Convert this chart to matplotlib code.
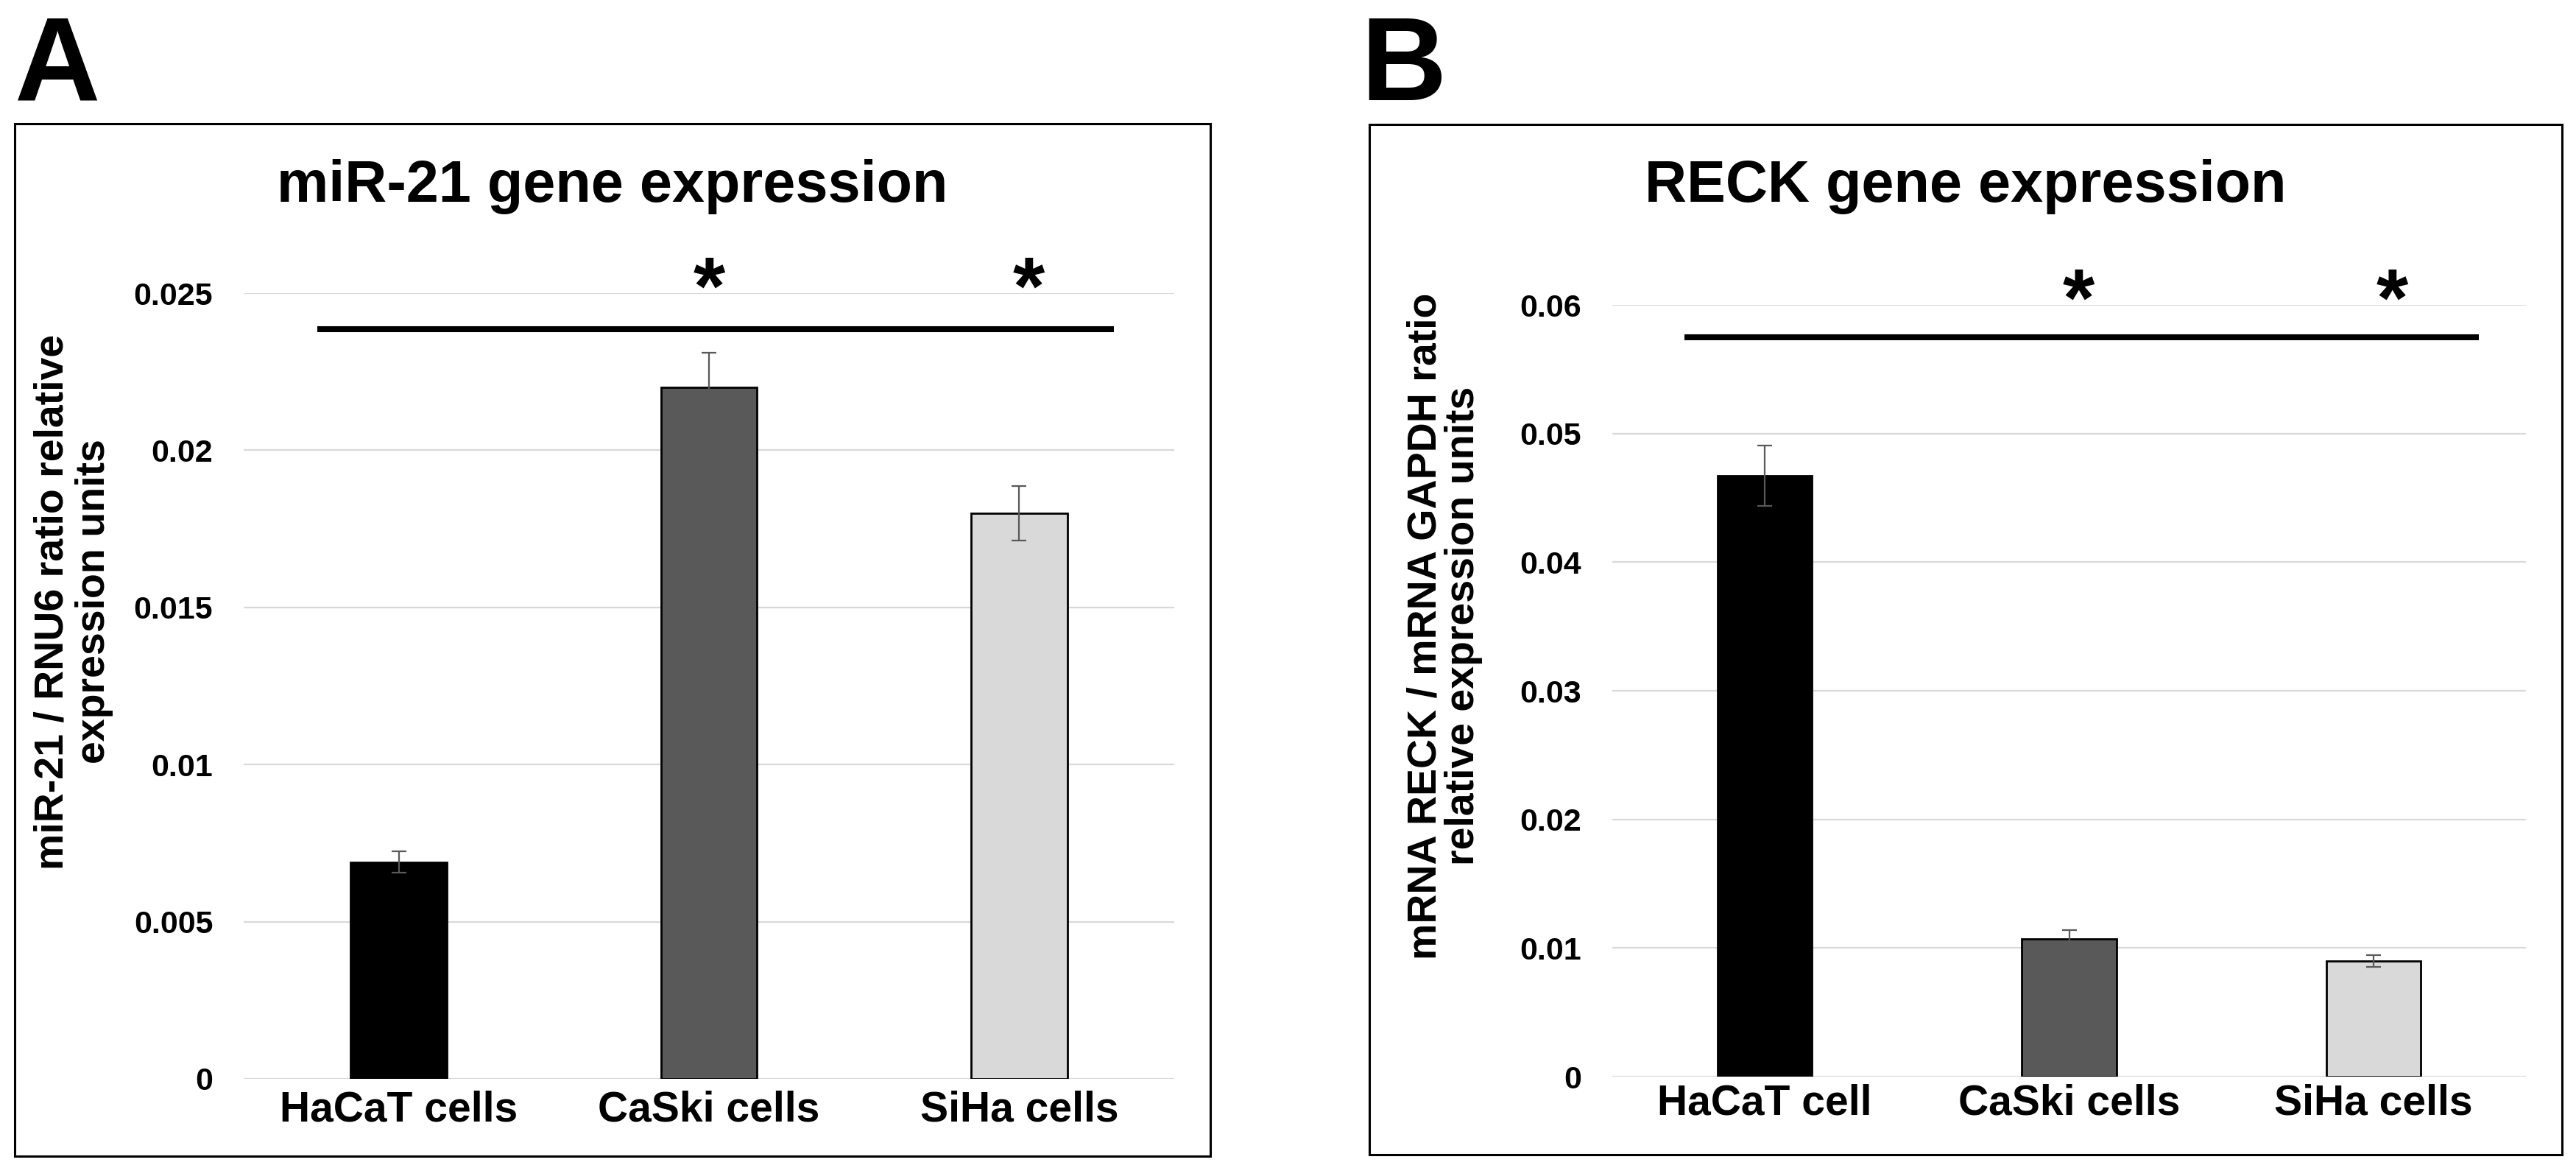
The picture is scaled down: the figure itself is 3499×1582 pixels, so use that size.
import matplotlib
matplotlib.use("Agg")
import matplotlib.pyplot as plt
from matplotlib.patches import Rectangle

plt.rcParams["font.family"] = ["Liberation Sans", "DejaVu Sans"]
plt.rcParams["font.weight"] = "bold"

# data
cells_a = ["HaCaT cells", "CaSki cells", "SiHa cells"]
mir21 = [0.0069, 0.0220, 0.0180]
mir21_err = [0.00033, 0.0011, 0.00087]
ticks_a = [0, 0.005, 0.01, 0.015, 0.02, 0.025]
ticklabels_a = ["0", "0.005", "0.01", "0.015", "0.02", "0.025"]

cells_b = ["HaCaT cell", "CaSki cells", "SiHa cells"]
reck = [0.0467, 0.0107, 0.0090]
reck_err = [0.00234, 0.0007, 0.00045]
ticks_b = [0, 0.01, 0.02, 0.03, 0.04, 0.05, 0.06]
ticklabels_b = ["0", "0.01", "0.02", "0.03", "0.04", "0.05", "0.06"]

bar_colors = ["#000000", "#595959", "#d9d9d9"]

W, H = 3499, 1582


def fx(px):
    return px / W


def fy(py):
    return 1 - py / H


fig = plt.figure(figsize=(W / 100, H / 100), dpi=100)


def panel(rect, box, letter_x, letter, title, cats, vals, errs, ticks, ticklabels,
          ylim, ylabel, ylabel_xy, ylabel_ls, sig_y, sig_x, star_x, star_y, xpad):
    # outer frame
    x0, y0, x1, y1 = box
    fig.patches.append(Rectangle((fx(x0), fy(y1)), fx(x1) - fx(x0), fy(y0) - fy(y1),
                                 transform=fig.transFigure, fill=False,
                                 edgecolor="black", linewidth=2.2, zorder=0))
    fig.text(fx(letter_x), fy(136), letter, fontsize=116, fontweight="bold",
             ha="left", va="baseline")
    fig.text(fx((x0 + x1) / 2), fy(274), title, fontsize=57, fontweight="bold",
             ha="center", va="baseline")
    fig.text(fx(ylabel_xy[0]), fy(ylabel_xy[1]), ylabel, fontsize=40, fontweight="bold",
             rotation=90, ha="center", va="center", multialignment="center",
             linespacing=ylabel_ls)

    ax = fig.add_axes(rect)
    x = range(len(cats))
    ax.bar(x, vals, width=0.31, color=bar_colors, edgecolor="black", linewidth=2, zorder=3)
    ax.errorbar(x, vals, yerr=errs, fmt="none", ecolor="#595959", elinewidth=1.6,
                capsize=7, capthick=1.6, zorder=4)
    ax.set_xlim(-0.5, len(cats) - 0.5)
    ax.set_ylim(*ylim)
    ax.set_yticks(ticks)
    ax.set_yticklabels(ticklabels)
    ax.set_xticks(list(x))
    ax.set_xticklabels(cats)
    ax.grid(axis="y", color="#d9d9d9", linewidth=1.6, zorder=0)
    ax.set_axisbelow(True)
    for s in ax.spines.values():
        s.set_visible(False)
    ax.tick_params(axis="y", length=0, pad=30, labelsize=31)
    ax.tick_params(axis="x", length=0, pad=xpad, labelsize=41)
    for lbl in ax.get_xticklabels() + ax.get_yticklabels():
        lbl.set_fontweight("bold")

    ax.plot(sig_x, [sig_y, sig_y], color="black", linewidth=5.8, solid_capstyle="butt",
            clip_on=False, zorder=5)
    for sx in star_x:
        ax.text(sx, star_y, "*", fontsize=80, fontweight="bold", ha="center",
                va="center", clip_on=False)
    return ax


panel([fx(331), fy(1465), fx(1595) - fx(331), fy(398) - fy(1465)],
      (20, 168, 1644, 1570), 20, "A", "miR-21 gene expression",
      cells_a, mir21, mir21_err, ticks_a, ticklabels_a, (0, 0.025),
      "miR-21 / RNU6 ratio relative\nexpression units", (100, 817), 1.12,
      0.02385, [-0.263, 2.306], [1.0, 2.03], 0.0250, 11)

panel([fx(2190), fy(1462), fx(3431) - fx(2190), fy(414) - fy(1462)],
      (1860, 169, 3480, 1568), 1848, "B", "RECK gene expression",
      cells_b, reck, reck_err, ticks_b, ticklabels_b, (0, 0.06),
      "mRNA RECK / mRNA GAPDH ratio\nrelative expression units", (1962, 850), 1.0,
      0.05747, [-0.263, 2.345], [1.03, 2.06], 0.0600, 7)

fig.savefig("out.png", dpi=100)
